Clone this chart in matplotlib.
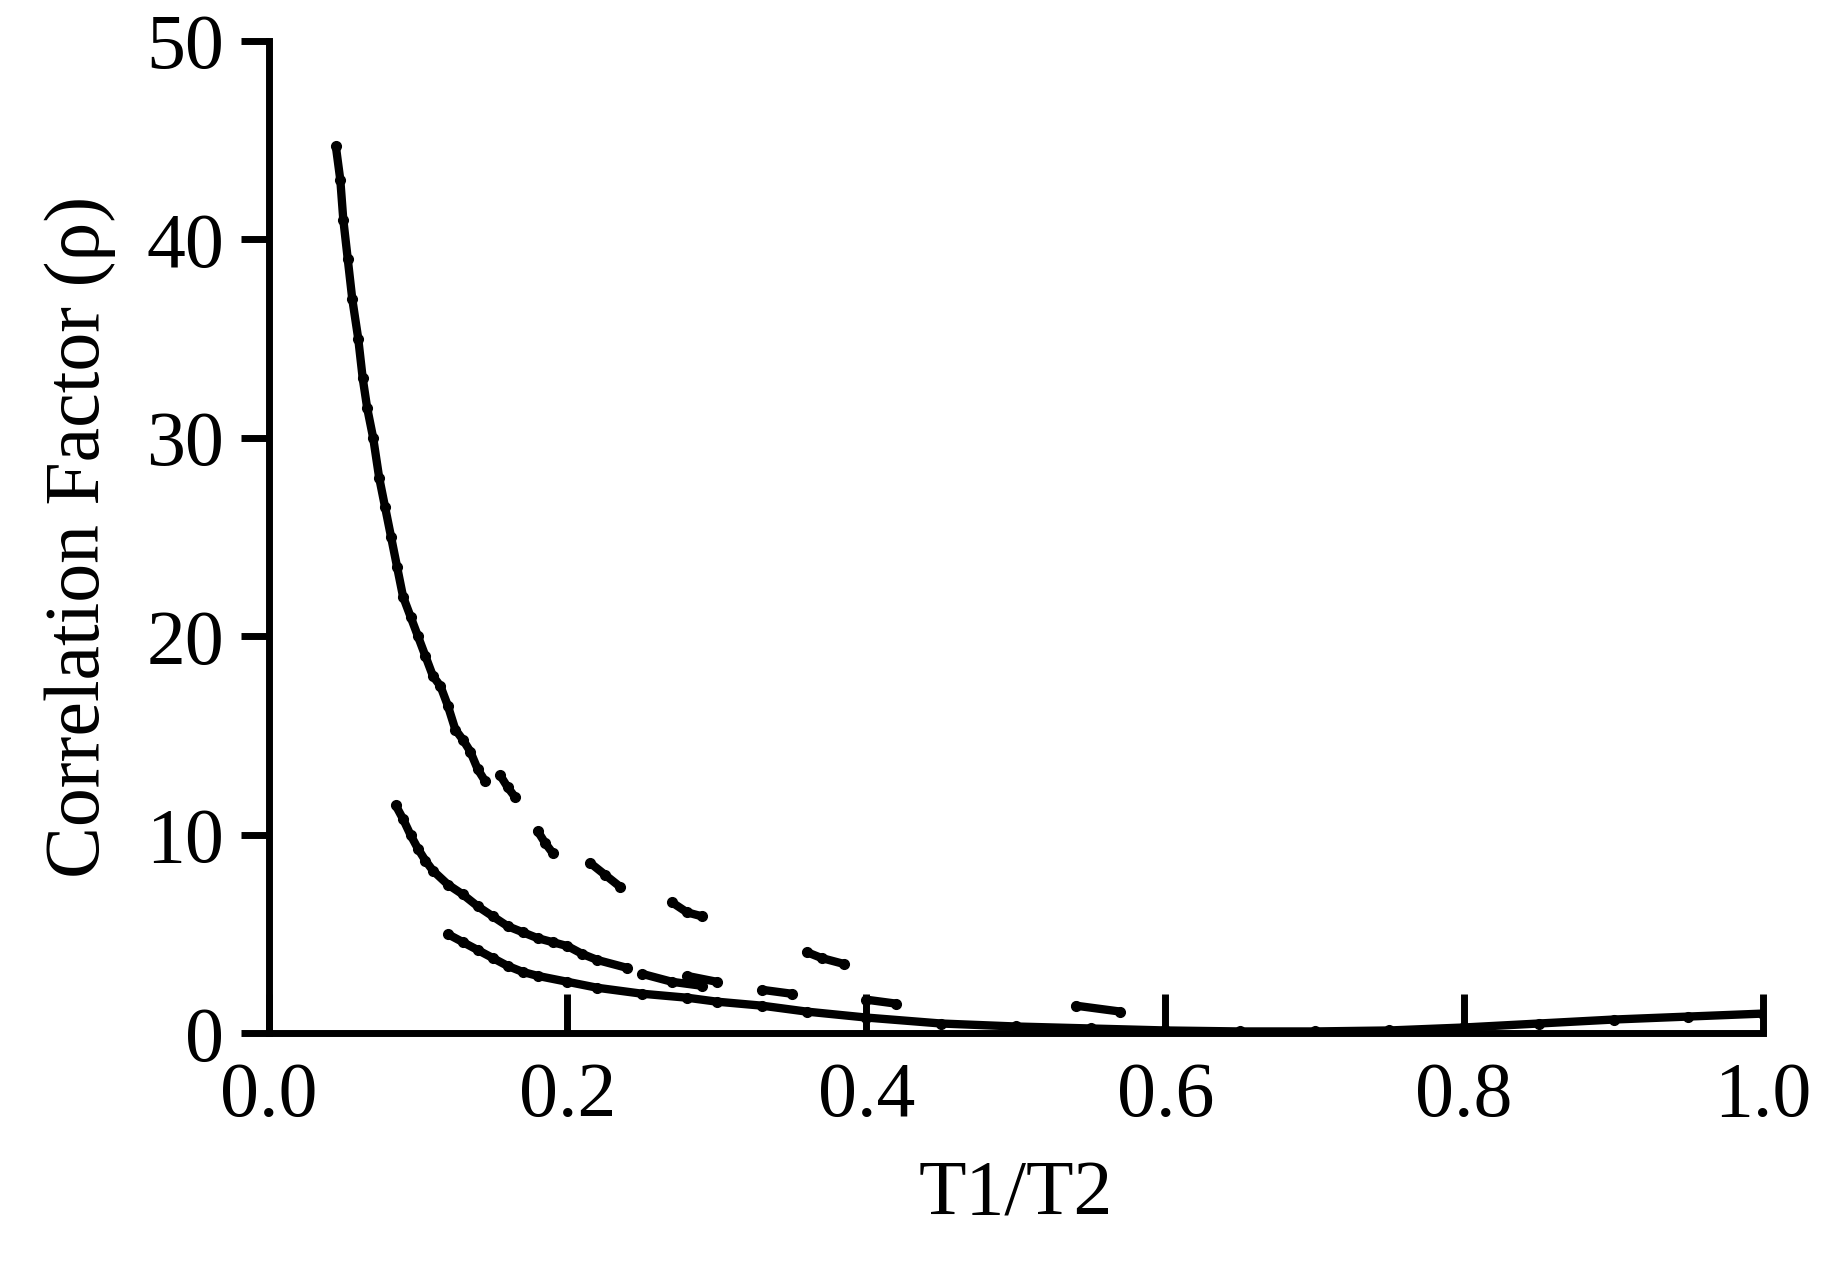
import matplotlib.pyplot as plt

# upper branch (broken into short runs)
up_x = [0.045, 0.048, 0.05, 0.053, 0.056, 0.06, 0.063, 0.066, 0.07, 0.074, 0.078, 0.082, 0.086, 0.09,
        0.095, 0.1, 0.105, 0.11, 0.115, 0.12, 0.125, 0.13, 0.135, 0.14, 0.145]
up_y = [44.7, 43, 41, 39, 37, 35, 33, 31.5, 30, 28, 26.5, 25, 23.5, 22,
        21, 20, 19, 18, 17.5, 16.5, 15.3, 14.8, 14.2, 13.3, 12.7]
seg_x = [[0.155, 0.16, 0.165], [0.18, 0.185, 0.19], [0.215, 0.225, 0.235], [0.27, 0.28, 0.29],
         [0.36, 0.37, 0.385]]
seg_y = [[13.0, 12.4, 11.9], [10.2, 9.6, 9.1], [8.6, 8.0, 7.4], [6.6, 6.1, 5.9], [4.1, 3.8, 3.5]]

mid_x = [0.085, 0.09, 0.095, 0.1, 0.105, 0.11, 0.12, 0.13, 0.14, 0.15, 0.16, 0.17, 0.18, 0.19, 0.2,
         0.21, 0.22, 0.24]
mid_y = [11.5, 10.8, 10.0, 9.3, 8.7, 8.2, 7.5, 7.0, 6.4, 5.9, 5.4, 5.1, 4.8, 4.6, 4.4, 4.0, 3.7, 3.3]
mid2_x = [[0.25, 0.27, 0.29], [0.28, 0.3], [0.33, 0.35], [0.4, 0.42], [0.54, 0.57]]
mid2_y = [[3.0, 2.6, 2.4], [2.9, 2.6], [2.2, 2.0], [1.7, 1.5], [1.4, 1.1]]

low_x = [0.12, 0.13, 0.14, 0.15, 0.16, 0.17, 0.18, 0.2, 0.22, 0.25, 0.28, 0.3, 0.33, 0.36, 0.4,
         0.45, 0.5, 0.55, 0.6, 0.65, 0.7, 0.75, 0.8, 0.85, 0.9, 0.95, 1.0]
low_y = [5.0, 4.6, 4.2, 3.8, 3.4, 3.1, 2.9, 2.6, 2.3, 2.0, 1.8, 1.6, 1.4, 1.1, 0.8,
         0.5, 0.35, 0.25, 0.15, 0.1, 0.1, 0.15, 0.3, 0.5, 0.7, 0.85, 1.0]

plt.rcParams['font.family'] = ['Liberation Serif', 'DejaVu Serif']
fig = plt.figure(figsize=(18.27, 12.79), dpi=100)
ax = fig.add_axes([0.147, 0.192, 0.818, 0.776])

style = dict(color='black', marker='o', markersize=7, linewidth=6, solid_capstyle='round')
ax.plot(up_x, up_y, **style)
for xs, ys in zip(seg_x, seg_y):
    ax.plot(xs, ys, **style)
ax.plot(mid_x, mid_y, **style)
for xs, ys in zip(mid2_x, mid2_y):
    ax.plot(xs, ys, **style)
ax.plot(low_x, low_y, **style)

ax.set_xlim(0, 1.0)
ax.set_ylim(0, 50)
ax.set_xticks([0.0, 0.2, 0.4, 0.6, 0.8, 1.0])
ax.set_xticklabels(['0.0', '0.2', '0.4', '0.6', '0.8', '1.0'])
ax.set_yticks([0, 10, 20, 30, 40, 50])
for s in ['top', 'right']:
    ax.spines[s].set_visible(False)
for s in ['left', 'bottom']:
    ax.spines[s].set_linewidth(5)
ax.tick_params(axis='x', direction='in', length=28, width=5, labelsize=56, pad=20)
ax.tick_params(axis='y', direction='out', length=20, width=5, labelsize=56, pad=12)
ax.set_xlabel('T1/T2', fontsize=56, labelpad=20)
ax.set_ylabel('Correlation Factor (ρ)', fontsize=56, labelpad=22)

fig.savefig('out.png')
